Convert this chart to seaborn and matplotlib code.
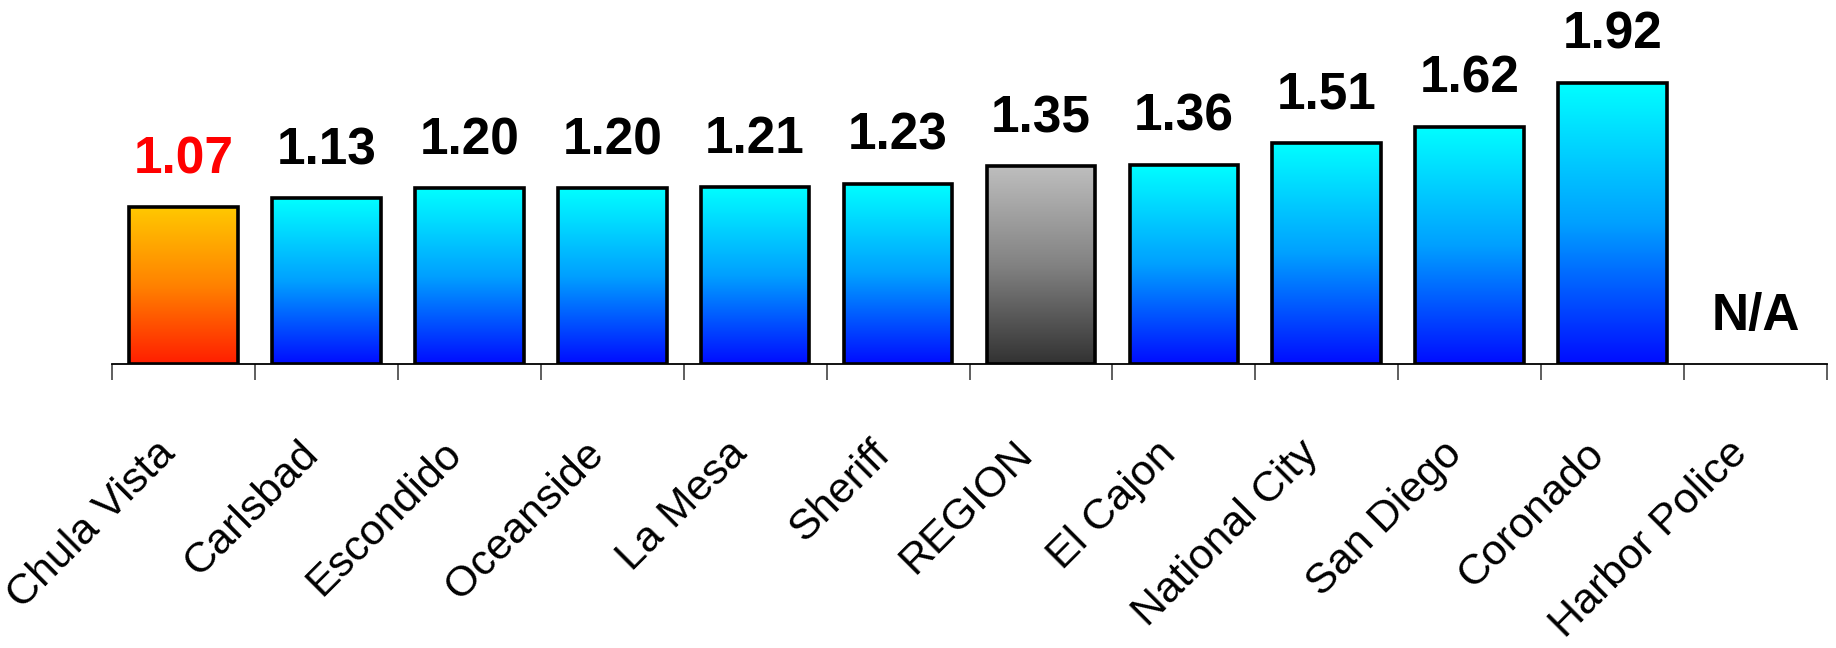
import numpy as np
import pandas as pd
import seaborn as sns
import matplotlib.pyplot as plt
from matplotlib.colors import LinearSegmentedColormap
from matplotlib import font_manager

# =========================
# Datos
# =========================
agencies = ["Chula Vista", "Carlsbad", "Escondido", "Oceanside", "La Mesa", "Sheriff",
            "REGION", "El Cajon", "National City", "San Diego", "Coronado", "Harbor Police"]
rates = [1.07, 1.13, 1.20, 1.20, 1.21, 1.23, 1.35, 1.36, 1.51, 1.62, 1.92, np.nan]
highlight = "Chula Vista"
region = "REGION"

df = pd.DataFrame({"Agencia": agencies, "Valor": rates})

# =========================
# Fuentes
# =========================
installed = {f.name for f in font_manager.fontManager.ttflist}
num_font = ["Liberation Sans Narrow", "Liberation Sans", "DejaVu Sans"]
num_font = [f for f in num_font if f in installed] or ["DejaVu Sans"]
lab_font = ["Liberation Sans", "DejaVu Sans"]

sns.set_style("white")
plt.rcParams["font.family"] = lab_font

# gradientes (abajo -> arriba)
cm_blue = LinearSegmentedColormap.from_list("blue", ["#000cff", "#00a0ff", "#00ffff"])
cm_orange = LinearSegmentedColormap.from_list("orange", ["#ff1e00", "#ff8200", "#ffc800"])
cm_gray = LinearSegmentedColormap.from_list("gray", ["#323232", "#828282", "#bebebe"])

fig = plt.figure(figsize=(18.36, 6.48), dpi=100)
ax = fig.add_axes([112 / 1836, (648 - 364) / 648, 1715 / 1836, 351.6 / 648])

sns.barplot(data=df, x="Agencia", y="Valor", color="#00ffff", width=0.76,
            edgecolor="black", linewidth=2.6, ax=ax, zorder=3)

grad = np.linspace(0, 1, 256).reshape(-1, 1)
for patch, name, val in zip(ax.patches, agencies, rates):
    if np.isnan(val):
        continue
    x0 = patch.get_x()
    w = patch.get_width()
    h = patch.get_height()
    cmap = cm_orange if name == highlight else (cm_gray if name == region else cm_blue)
    im = ax.imshow(grad, cmap=cmap, origin="lower", aspect="auto",
                   extent=[x0, x0 + w, 0, h], zorder=2)
    im.set_clip_path(patch)
    patch.set_facecolor("none")

ax.set_xlim(-0.5, len(agencies) - 0.5)
ax.set_ylim(0, 2.4)

# etiquetas de valor
for i, (name, val) in enumerate(zip(agencies, rates)):
    txt = "N/A" if np.isnan(val) else f"{val:.2f}"
    yv = 0 if np.isnan(val) else val
    ax.annotate(txt, (i, yv), xytext=(0, 24.5), textcoords="offset points",
                ha="center", va="baseline", fontsize=37, fontweight="bold",
                family=num_font, color="red" if name == highlight else "black")

# ejes
sns.despine(ax=ax, left=True, top=True, right=True)
ax.spines["bottom"].set_linewidth(1.3)
ax.spines["bottom"].set_color("black")
ax.set_yticks([])
ax.set_xlabel("")
ax.set_ylabel("")
ax.set_xticks(np.arange(len(agencies) + 1) - 0.5, minor=True)
ax.tick_params(axis="x", which="minor", length=11.5, width=1.2, color="#444444",
               direction="out", bottom=True)
ax.tick_params(axis="x", which="major", length=0, pad=50, labelcolor="black")
ax.set_xticks(range(len(agencies)))
ax.set_xticklabels(agencies, rotation=45, ha="right", va="top", fontsize=31)

fig.savefig("out.png", dpi=100)
